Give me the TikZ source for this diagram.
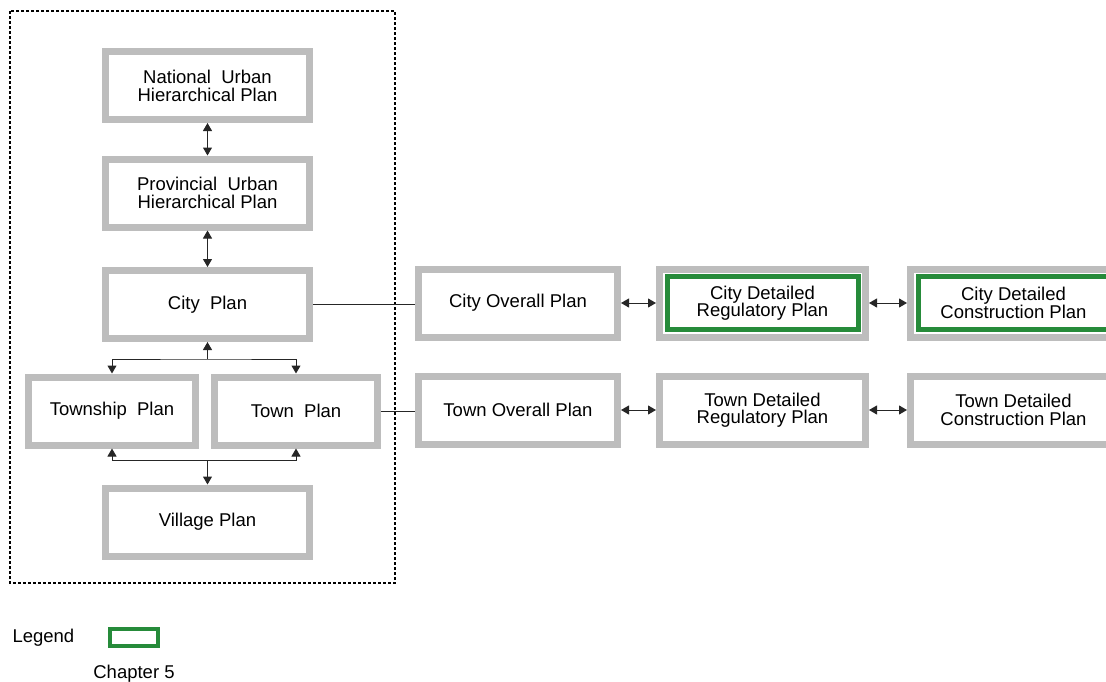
\documentclass[tikz,border=0pt]{standalone}
\usepackage{fontspec}
\setmainfont{Liberation Sans}
\usetikzlibrary{arrows.meta,positioning,calc}
\definecolor{framegray}{RGB}{189,189,189}
\definecolor{chapgreen}{RGB}{38,139,58}

\begin{document}
\begin{tikzpicture}
   [x=1pt,y=-1pt,font=\fontsize{18.5}{18}\selectfont,
    >={Triangle[length=8pt,width=9pt]},
	plan/.style={rectangle,draw=framegray,line width=7pt,fill=white,
	 minimum width=204pt,minimum height=68pt,align=center},
	tight/.style={font=\fontsize{18.5}{17.5}\selectfont},
	chap/.style={draw=chapgreen,line width=5pt},
	link/.style={line width=1pt,draw=black!85}]
\useasboundingbox (0,0) rectangle (1106,681);
% hierarchy of urban plans
\draw [dashed,dash pattern=on 3pt off 2pt,line width=1.2pt] (10,11) rectangle (395,583);
\node [plan] (nat) at (207.5,85.5) {National~~Urban\\Hierarchical Plan};
\node [plan] (prov) at (207.5,193) {Provincial~~Urban\\Hierarchical Plan};
\node [plan] (city) at (207.5,304.5) {City~~Plan};
\node [plan,minimum width=167pt] (township) at (112,411) {Township~~Plan};
\node [plan,minimum width=163pt] (town) at (296,411) {Town~~Plan};
\node [plan] (village) at (207.5,522) {Village Plan};
% city and town plans
\node [plan,tight,minimum width=199pt] (cover) at (518,303) {City Overall Plan};
\node [plan,tight,minimum width=206pt] (creg) at (762.5,303) {City Detailed\\Regulatory Plan};
\node [plan,tight,minimum width=206pt] (ccons) at (1013.5,303) {City Detailed\\Construction Plan};
\node [plan,tight,minimum width=199pt] (tover) at (518,410) {Town Overall Plan};
\node [plan,tight,minimum width=206pt] (treg) at (762.5,410) {Town Detailed\\Regulatory Plan};
\node [plan,tight,minimum width=206pt] (tcons) at (1013.5,410) {Town Detailed\\Construction Plan};
\draw [chap] ($(creg.north west)+(11,11)$) rectangle ($(creg.south east)+(-11,-11)$);
\draw [chap] ($(ccons.north west)+(11,11)$) rectangle ($(ccons.south east)+(-11,-11)$);

\coordinate (cj) at ($(city.south)+(0,17)$);
\coordinate (vj) at ($(village.north)+(0,-24)$);
\draw [link,<->] (nat.south) -- (prov.north);
\draw [link,<->] (prov.south) -- (city.north);
\draw [link,<->] (township.north) |- (cj) -| (town.north);
\draw [link,->] (cj) -- (city.south);
\draw [link,<->] (township.south) |- (vj) -| (town.south);
\draw [link,->] (vj) -- (village.north);
\draw [link] (city.east) -- (city.east -| cover.west);
\draw [link] (town.east) -- (town.east -| tover.west);
\draw [link,<->] (cover) -- (creg);
\draw [link,<->] (creg) -- (ccons);
\draw [link,<->] (tover) -- (treg);
\draw [link,<->] (treg) -- (tcons);
% legend
\node [anchor=base west] (legend) at (9,642) {Legend};
\node [draw=chapgreen,line width=4pt,minimum width=48pt,minimum height=17pt,inner sep=0pt] (key) at (134,637.5) {};
\node [below=14pt of key] (keytext) {Chapter 5};
\end{tikzpicture}
\end{document}
